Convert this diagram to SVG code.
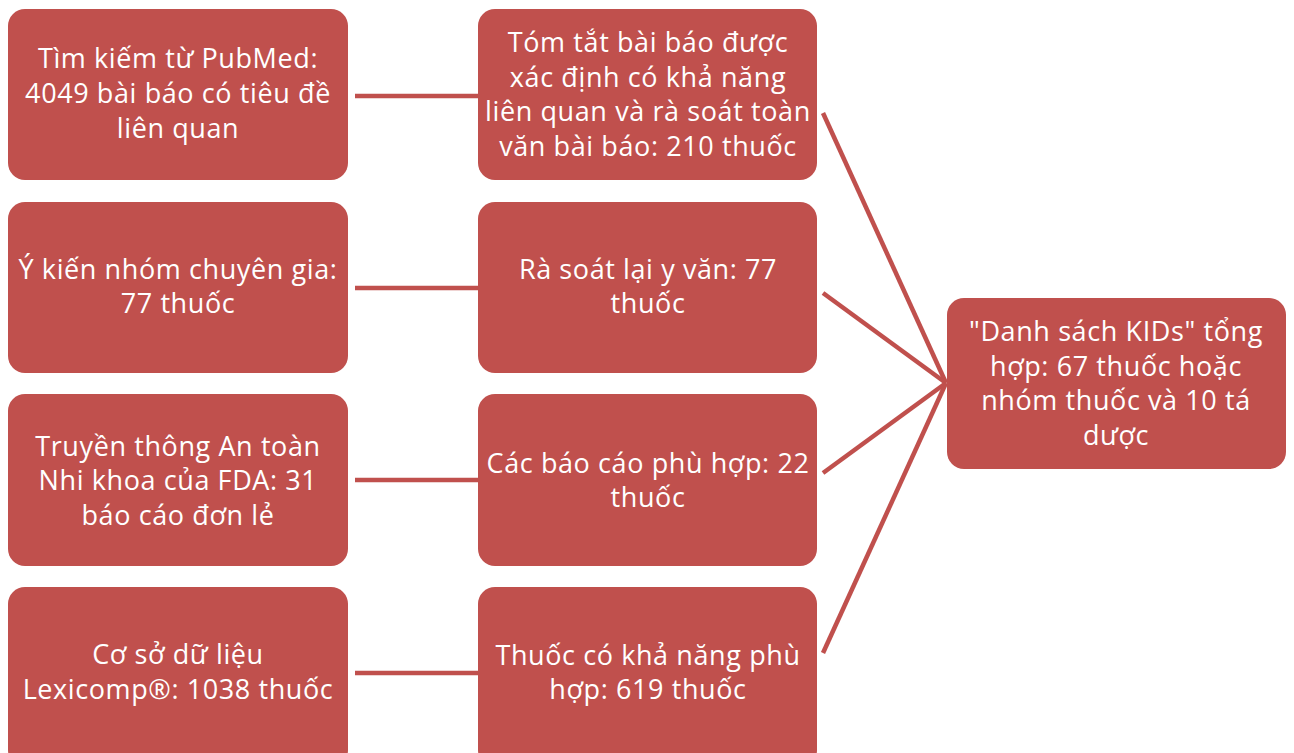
<svg xmlns="http://www.w3.org/2000/svg" width="1294" height="753" viewBox="0 0 1294 753">
<style>
.box{fill:#C0504D;}
.t{font-family:"Open Sans","Liberation Sans",sans-serif;font-size:27px;letter-spacing:0.6px;fill:#FFFFFF;text-anchor:middle;}
.c{stroke:#C0504D;stroke-width:4.5;fill:none;}
</style>
<rect width="1294" height="753" fill="#FFFFFF"/>
<g id="connectors">
<line class="c" x1="355" y1="96" x2="478" y2="96"/>
<line class="c" x1="355" y1="288" x2="478" y2="288"/>
<line class="c" x1="355" y1="480" x2="478" y2="480"/>
<line class="c" x1="355" y1="673" x2="478" y2="673"/>
<line class="c" x1="823" y1="113" x2="946" y2="383"/>
<line class="c" x1="823" y1="293" x2="946" y2="383"/>
<line class="c" x1="823" y1="473" x2="946" y2="383"/>
<line class="c" x1="823" y1="653" x2="946" y2="383"/>
</g>
<g id="n1"><rect class="box" x="8" y="9" width="340" height="171" rx="17"/>
<text class="t" x="178" y="68">Tìm kiếm từ PubMed:</text>
<text class="t" x="178" y="103">4049 bài báo có tiêu đề</text>
<text class="t" x="178" y="138">liên quan</text></g>
<g id="n2"><rect class="box" x="478" y="9" width="339" height="171" rx="17"/>
<text class="t" x="648" y="52">Tóm tắt bài báo được</text>
<text class="t" x="648" y="87">xác định có khả năng</text>
<text class="t" x="648" y="121">liên quan và rà soát toàn</text>
<text class="t" x="648" y="156">văn bài báo: 210 thuốc</text></g>
<g id="n3"><rect class="box" x="8" y="202" width="340" height="171" rx="17"/>
<text class="t" x="178" y="279">Ý kiến nhóm chuyên gia:</text>
<text class="t" x="178" y="313">77 thuốc</text></g>
<g id="n4"><rect class="box" x="478" y="202" width="339" height="171" rx="17"/>
<text class="t" x="648" y="279">Rà soát lại y văn: 77</text>
<text class="t" x="648" y="313">thuốc</text></g>
<g id="n5"><rect class="box" x="8" y="394" width="340" height="172" rx="17"/>
<text class="t" x="178" y="456">Truyền thông An toàn</text>
<text class="t" x="178" y="490">Nhi khoa của FDA: 31</text>
<text class="t" x="178" y="525">báo cáo đơn lẻ</text></g>
<g id="n6"><rect class="box" x="478" y="394" width="339" height="172" rx="17"/>
<text class="t" x="648" y="473">Các báo cáo phù hợp: 22</text>
<text class="t" x="648" y="507">thuốc</text></g>
<g id="n7"><rect class="box" x="8" y="587" width="340" height="180" rx="17"/>
<text class="t" x="178" y="664">Cơ sở dữ liệu</text>
<text class="t" x="178" y="699">Lexicomp®: 1038 thuốc</text></g>
<g id="n8"><rect class="box" x="478" y="587" width="339" height="180" rx="17"/>
<text class="t" x="648" y="665">Thuốc có khả năng phù</text>
<text class="t" x="648" y="699">hợp: 619 thuốc</text></g>
<g id="n9"><rect class="box" x="947" y="298" width="339" height="171" rx="17"/>
<text class="t" x="1116" y="341">"Danh sách KIDs" tổng</text>
<text class="t" x="1116" y="376">hợp: 67 thuốc hoặc</text>
<text class="t" x="1116" y="410">nhóm thuốc và 10 tá</text>
<text class="t" x="1116" y="445">dược</text></g>
</svg>
